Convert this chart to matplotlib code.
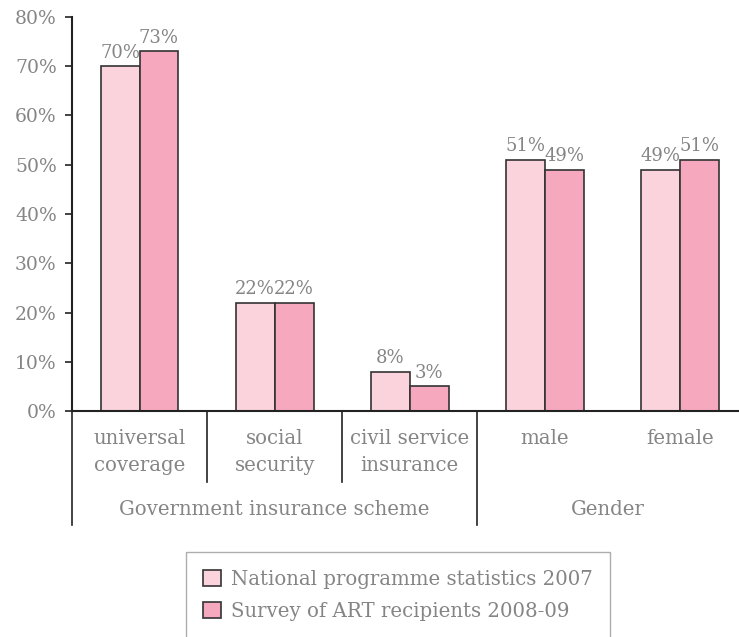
import matplotlib
matplotlib.use("Agg")
import matplotlib.pyplot as plt
import numpy as np

categories = ["universal\ncoverage", "social\nsecurity", "civil service\ninsurance", "male", "female"]
groups = ["Government insurance scheme", "Gender"]
national = [70, 22, 8, 51, 49]
survey = [73, 22, 5, 49, 51]
national_labels = ["70%", "22%", "8%", "51%", "49%"]
survey_labels = ["73%", "22%", "3%", "49%", "51%"]
series_names = ["National programme statistics 2007", "Survey of ART recipients 2008-09"]
yticks = [0, 10, 20, 30, 40, 50, 60, 70, 80]

plt.rcParams['font.family'] = ['DejaVu Serif']
grey = '#858585'
dark = '#222222'
c1 = '#fbd3dc'
c2 = '#f6a9be'
fs = 14.2

fig = plt.figure(figsize=(7.39, 6.37), dpi=100)
ax = fig.add_axes([72/739, 1-411/637, 666/739, 394/637])

x = np.arange(len(categories))
w = 0.288
b1 = ax.bar(x - w/2, national, w, color=c1, edgecolor='#333333', linewidth=1.2, label=series_names[0])
b2 = ax.bar(x + w/2, survey, w, color=c2, edgecolor='#333333', linewidth=1.2, label=series_names[1])

for rect, lab in zip(b1, national_labels):
    ax.text(rect.get_x() + rect.get_width()/2, rect.get_height() + 0.9, lab,
            ha='center', va='bottom', color=grey, fontsize=13)
for rect, lab in zip(b2, survey_labels):
    ax.text(rect.get_x() + rect.get_width()/2, rect.get_height() + 0.9, lab,
            ha='center', va='bottom', color=grey, fontsize=13)

ax.set_xlim(-0.5, 4.43)
ax.set_ylim(0, 80)
ax.set_yticks(yticks)
ax.set_yticklabels([f"{t}%" for t in yticks], color=grey, fontsize=13.5)
ax.tick_params(axis='y', length=5, width=1.2, color=dark, pad=6)
ax.set_xticks([])

for s in ['top', 'right']:
    ax.spines[s].set_visible(False)
ax.spines['left'].set_color(dark)
ax.spines['left'].set_linewidth(1.5)
ax.spines['bottom'].set_color(dark)
ax.spines['bottom'].set_linewidth(1.5)

tr = ax.get_xaxis_transform()
# separators below axis
for xs, ybot in [(-0.5, -0.29), (0.5, -0.18), (1.5, -0.18), (2.5, -0.29)]:
    ax.plot([xs, xs], [0, ybot], transform=tr, color=dark, lw=1.2, clip_on=False)

for xi, lab in zip(x, categories):
    ax.text(xi, -0.045, lab, transform=tr, ha='center', va='top', color=grey,
            fontsize=fs, linespacing=1.55)

ax.text(1.0, -0.249, groups[0], transform=tr, ha='center', va='center', color=grey, fontsize=fs)
ax.text(3.47, -0.249, groups[1], transform=tr, ha='center', va='center', color=grey, fontsize=fs)

leg = fig.legend(handles=[b1, b2], loc='upper center', bbox_to_anchor=(398/739, 1-552/637),
                 frameon=True, fancybox=False, fontsize=fs, handlelength=0.9, handleheight=0.9,
                 handletextpad=0.5, borderpad=0.9, labelspacing=0.65, borderaxespad=0)
leg.get_frame().set_edgecolor('#999999')
leg.get_frame().set_linewidth(1.0)
for t in leg.get_texts():
    t.set_color(grey)

fig.savefig("out.png", dpi=100)
